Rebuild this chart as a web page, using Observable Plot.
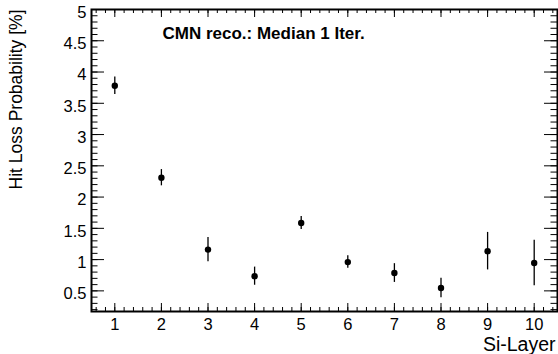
<!DOCTYPE html>
<html>
<head>
<meta charset="utf-8">
<script src="https://cdn.jsdelivr.net/npm/d3@7"></script>
<script src="https://cdn.jsdelivr.net/npm/@observablehq/plot@0.6"></script>
<style>
  html, body { margin: 0; padding: 0; background: #fff; }
  #chart svg { display: block; }
</style>
</head>
<body>
<div id="chart"></div>
<script>
// ---- data ----
const layers = [1, 2, 3, 4, 5, 6, 7, 8, 9, 10];
const hitLoss = [3.78, 2.31, 1.16, 0.735, 1.585, 0.96, 0.785, 0.545, 1.135, 0.945];
const hitLossErr = [0.14, 0.13, 0.195, 0.145, 0.105, 0.10, 0.15, 0.155, 0.30, 0.365];

// ---- axis ticks / labels ----
const xMajor = [1, 2, 3, 4, 5, 6, 7, 8, 9, 10];
const xMinor = d3.range(6, 105, 2).map(d => d / 10);
const yMajor = [0.5, 1, 1.5, 2, 2.5, 3, 3.5, 4, 4.5, 5];
const yMinor = d3.range(2, 51).map(d => d / 10);
const xTitle = "Si-Layer";
const yTitle = "Hit Loss Probability [%]";
const note = "CMN reco.: Median 1 Iter.";

const W = 558, H = 354;
const mL = 91, mR = 1, mT = 9, mB = 43;
const fw = W - mL - mR, fh = H - mT - mB;

const data = layers.map((l, i) => ({layer: l, v: hitLoss[i], e: hitLossErr[i]}));

const chart = Plot.plot({
  width: W,
  height: H,
  marginLeft: mL,
  marginRight: mR,
  marginTop: mT,
  marginBottom: mB,
  style: {fontFamily: "'Liberation Sans', Arial, Helvetica, sans-serif", fontSize: "16.5px", background: "#fff", color: "#000"},
  x: {domain: [0.5, 10.5], axis: null},
  y: {domain: [0.17, 5], axis: null},
  marks: [
    // inward ticks: left / right
    Plot.tickY(yMajor, {y: d => d, stroke: "#000", strokeWidth: 1, insetRight: fw - 13}),
    Plot.tickY(yMinor, {y: d => d, stroke: "#000", strokeWidth: 1, insetRight: fw - 6.5}),
    Plot.tickY(yMajor, {y: d => d, stroke: "#000", strokeWidth: 1, insetLeft: fw - 13}),
    Plot.tickY(yMinor, {y: d => d, stroke: "#000", strokeWidth: 1, insetLeft: fw - 6.5}),
    // inward ticks: bottom / top
    Plot.tickX(xMajor, {x: d => d, stroke: "#000", strokeWidth: 1, insetTop: fh - 8}),
    Plot.tickX(xMinor, {x: d => d, stroke: "#000", strokeWidth: 1, insetTop: fh - 4}),
    Plot.tickX(xMajor, {x: d => d, stroke: "#000", strokeWidth: 1, insetBottom: fh - 8}),
    Plot.tickX(xMinor, {x: d => d, stroke: "#000", strokeWidth: 1, insetBottom: fh - 4}),
    Plot.frame({stroke: "#000", strokeWidth: 2}),
    // tick labels
    Plot.axisY({ticks: yMajor, tickSize: 0, tickPadding: 5, dy: 3, tickFormat: d => String(d), fontSize: 16.5, label: null}),
    Plot.axisX({ticks: xMajor, tickSize: 0, tickPadding: 7, tickFormat: d => String(d), fontSize: 16.5, label: null}),
    // axis titles
    Plot.text([xTitle], {text: d => d, frameAnchor: "bottom-right", textAnchor: "end", lineAnchor: "bottom", dx: -2, dy: 39, fontSize: 19.5}),
    Plot.text([yTitle], {text: d => d, frameAnchor: "top-left", textAnchor: "end", lineAnchor: "bottom", rotate: -90, dx: -70, dy: 0, fontSize: 17.5}),
    // annotation
    Plot.text([note], {text: d => d, frameAnchor: "top-left", textAnchor: "start", lineAnchor: "bottom", dx: 71, dy: 29.5, fontSize: 17, fontWeight: "bold"}),
    // data
    Plot.ruleX(data, {x: "layer", y1: d => d.v - d.e, y2: d => d.v + d.e, stroke: "#000", strokeWidth: 1.3}),
    Plot.dot(data, {x: "layer", y: "v", r: 3.2, fill: "#000", stroke: "none"})
  ]
});
document.getElementById("chart").appendChild(chart);
</script>
</body>
</html>
